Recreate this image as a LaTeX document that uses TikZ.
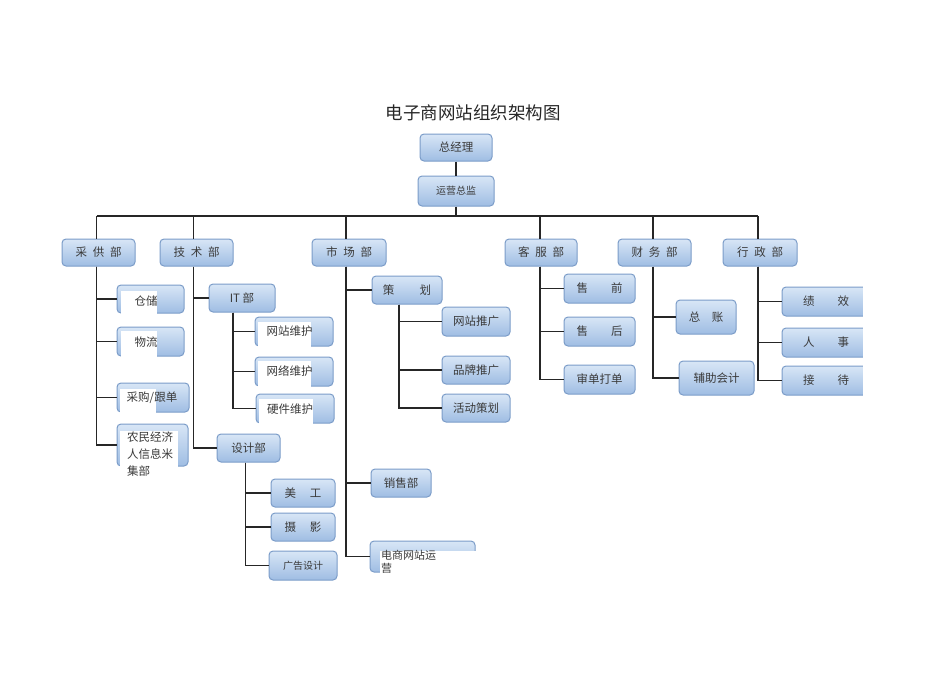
\documentclass[tikz,border=0pt]{standalone}
\usepackage{fontspec}
\setmainfont{Noto Sans CJK SC}
\usetikzlibrary{calc}
\definecolor{boxtop}{HTML}{D8E6F6}
\definecolor{boxbot}{HTML}{9FBDE3}
\definecolor{boxline}{HTML}{7B9CC8}
\definecolor{txt}{HTML}{3A3A3A}
\tikzset{
	box/.style={draw=boxline, line width=1pt, rounded corners=4pt, top color=boxtop, bottom color=boxbot,
		text=txt, inner sep=0pt, font=\fontsize{11.5}{14}\selectfont},
	small/.style={font=\fontsize{10}{12}\selectfont},
	lbl/.style={text=txt, inner sep=0pt, font=\fontsize{11.5}{17}\selectfont},
	wire/.style={line width=1.5pt, color=black!85},
}
\def\sp{\hspace{0.5em}}

\begin{document}
\begin{tikzpicture}[x=1pt, y=-1pt]
		%%%%% START %%%%%
		\useasboundingbox (0, 0) rectangle (950, 672);
		
		\node[text=black!85, font=\fontsize{17.5}{20}\selectfont] (title) at (473, 113) {电子商网站组织架构图};
		
		\node[box, minimum width=72, minimum height=27] (zjl) at (456, 147.5) {总经理};
		\node[box, small, minimum width=76, minimum height=30] (yyzj) at (456, 191) {运营总监};
		\coordinate (bus) at (456, 216);
		
		\node[box, minimum width=73, minimum height=27] (caigong) at (98.5, 252.5) {采\sp 供\sp 部};
		\node[box, minimum width=73, minimum height=27] (jishu) at (196.5, 252.5) {技\sp 术\sp 部};
		\node[box, minimum width=74, minimum height=27] (shichang) at (349, 252.5) {市\sp 场\sp 部};
		\node[box, minimum width=72, minimum height=27] (kefu) at (541, 252.5) {客\sp 服\sp 部};
		\node[box, minimum width=73, minimum height=27] (caiwu) at (654.5, 252.5) {财\sp 务\sp 部};
		\node[box, minimum width=74, minimum height=27] (xingzheng) at (760, 252.5) {行\sp 政\sp 部};
		
		% 采供部
		\node[box, minimum width=67, minimum height=28] (cangchu) at (150.5, 299) {};
		\node[box, minimum width=67, minimum height=29] (wuliu) at (150.5, 341.5) {};
		\node[box, minimum width=72, minimum height=29] (genzong) at (153, 397.5) {};
		\node[box, minimum width=71, minimum height=42] (nongmin) at (152.5, 445) {};
		
		% 技术部
		\node[box, minimum width=66, minimum height=28] (it) at (242, 298) {IT 部};
		\node[box, minimum width=78, minimum height=29] (wzwh) at (294, 331.5) {};
		\node[box, minimum width=78, minimum height=29] (wlwh) at (294, 371.5) {};
		\node[box, minimum width=78, minimum height=29] (yjwh) at (295, 408.5) {};
		\node[box, minimum width=63, minimum height=28] (sheji) at (248.5, 448) {设计部};
		\node[box, minimum width=64, minimum height=28] (meigong) at (303, 493) {美\hspace{1.2em}工};
		\node[box, minimum width=64, minimum height=28] (sheying) at (303, 527) {摄\hspace{1.2em}影};
		\node[box, small, minimum width=68, minimum height=29] (guanggao) at (303, 565.5) {广告设计};
		
		% 市场部
		\node[box, minimum width=70, minimum height=28] (cehua) at (407, 290) {策\hspace{2.2em}划};
		\node[box, minimum width=68, minimum height=29] (wztg) at (476, 321.5) {网站推广};
		\node[box, minimum width=68, minimum height=28] (pptg) at (476, 370) {品牌推广};
		\node[box, minimum width=68, minimum height=28] (hdch) at (476, 408) {活动策划};
		\node[box, minimum width=60, minimum height=28] (xiaoshou) at (401, 483) {销售部};
		\node[box, minimum width=105, minimum height=31] (dianshang) at (422.5, 556.5) {};
		
		% 客服部
		\node[box, minimum width=71, minimum height=29] (shouqian) at (599.5, 288.5) {售\hspace{2em}前};
		\node[box, minimum width=71, minimum height=29] (shouhou) at (599.5, 331.5) {售\hspace{2em}后};
		\node[box, minimum width=71, minimum height=29] (shendan) at (599.5, 379.5) {审单打单};
		
		% 财务部
		\node[box, minimum width=60, minimum height=34] (zongzhang) at (706, 317) {总\hspace{1em}账};
		\node[box, minimum width=75, minimum height=34] (fuzhu) at (716.5, 378) {辅助会计};
		
		% 行政部
		\node[box, minimum width=88, minimum height=29] (jixiao) at (826, 301.5) {绩\hspace{2em}效\hspace{0.6em}};
		\node[box, minimum width=88, minimum height=29] (renshi) at (826, 342.5) {人\hspace{2em}事\hspace{0.6em}};
		\node[box, minimum width=88, minimum height=29] (jiedai) at (826, 380.5) {接\hspace{2em}待\hspace{0.6em}};
		
		\draw[wire] (zjl) -- (yyzj);
		\draw[wire] (yyzj.south) -- (bus);
		\draw[wire] ($(caigong.north |- bus)+(-2, 0)$) -- ($(xingzheng.north |- bus)+(-2, 0)$);
		\foreach \d/\s in {caigong/-2, jishu/-3, shichang/-3, kefu/-1, caiwu/-1.5, xingzheng/-2}
			\draw[wire] ($(\d.north |- bus)+(\s, 0)$) -- ($(\d.north)+(\s, 0)$);
		
		\foreach \c in {cangchu, wuliu, genzong, nongmin}
			\draw[wire] ($(caigong.south)+(-2, 0)$) |- (\c.west);
		\foreach \c in {it, sheji}
			\draw[wire] ($(jishu.south)+(-3, 0)$) |- (\c.west);
		\foreach \c in {wzwh, wlwh, yjwh}
			\draw[wire] ($(it.south)+(-9, 0)$) |- (\c.west);
		\foreach \c in {meigong, sheying, guanggao}
			\draw[wire] ($(sheji.south)+(-3, 0)$) |- (\c.west);
		\foreach \c in {cehua, xiaoshou, dianshang}
			\draw[wire] ($(shichang.south)+(-3, 0)$) |- (\c.west);
		\foreach \c in {wztg, pptg, hdch}
			\draw[wire] ($(cehua.south)+(-8, 0)$) |- (\c.west);
		\foreach \c in {shouqian, shouhou, shendan}
			\draw[wire] ($(kefu.south)+(-1, 0)$) |- (\c.west);
		\foreach \c in {zongzhang, fuzhu}
			\draw[wire] ($(caiwu.south)+(-1.5, 0)$) |- (\c.west);
		\foreach \c in {jixiao, renshi, jiedai}
			\draw[wire] ($(xingzheng.south)+(-2, 0)$) |- (\c.west);
		
		% white patches over the boxes
		\fill[white] (121, 291) rectangle (157, 314);
		\fill[white] (121, 331) rectangle (157, 357);
		\fill[white] (120, 389) rectangle (156, 413);
		\fill[white] (120, 431) rectangle (178, 486);
		\fill[white] (258, 322) rectangle (311, 347);
		\fill[white] (258, 361) rectangle (311, 387);
		\fill[white] (259, 399) rectangle (313, 424);
		\fill[white] (380, 551) rectangle (478, 580);
		\fill[white] (863, 280) rectangle (880, 400);
		
		\node[lbl] (cangchu-t) at (146, 301) {仓储};
		\node[lbl] (wuliu-t) at (146, 342) {物流};
		\node[lbl] (genzong-t) at (152, 398) {采购/跟单};
		\node[lbl, align=left, anchor=north west] (nongmin-t) at (127, 432) {农民经济\\人信息米\\集部};
		\node[lbl] (wzwh-t) at (289.5, 331) {网站维护};
		\node[lbl] (wlwh-t) at (289.5, 371) {网络维护};
		\node[lbl] (yjwh-t) at (290, 409) {硬件维护};
		\node[lbl, align=left, anchor=north west, font=\fontsize{11}{13}\selectfont] (dianshang-t) at (381, 550) {电商网站运\\营};
		
		%%%%% END %%%%%
	\end{tikzpicture}
\end{document}
